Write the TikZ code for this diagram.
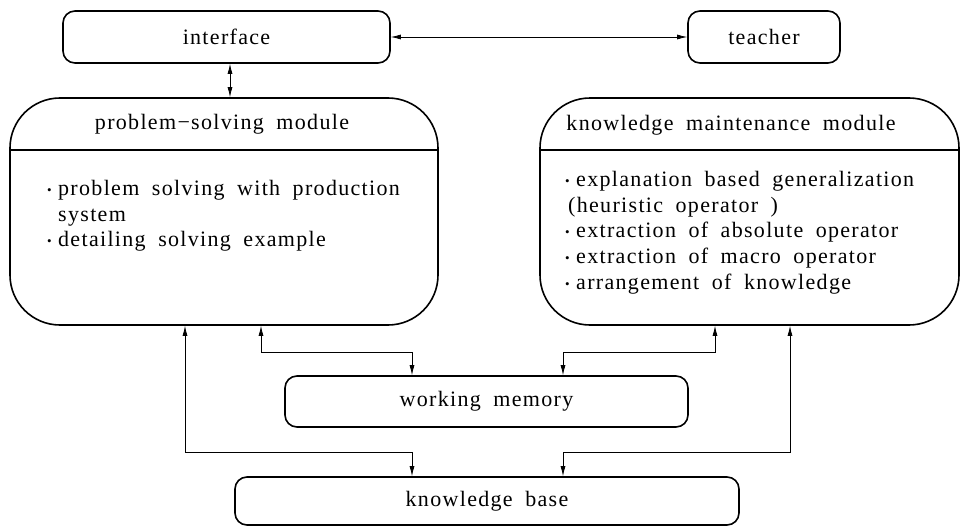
\documentclass[tikz,border=0pt]{standalone}
\usepackage{fontspec}
\setmainfont{Liberation Serif}[LetterSpace=6]
\usetikzlibrary{arrows.meta}
\newcommand\fs{\fontsize{22}{25.75}\selectfont\spaceskip=12.5pt plus 1pt\relax}
\newcommand\bul{\makebox[11pt][l]{\raisebox{1pt}{\fontsize{13}{13}\selectfont•}}}
\tikzset{
  modbox/.style={draw, line width=1.6pt, rounded corners=50pt, inner sep=0pt},
  smallbox/.style={draw, line width=1.6pt, rounded corners=12pt, inner sep=0pt, font=\fs},
  divider/.style={line width=1.4pt},
  conn/.style={line width=0.8pt, {Latex[length=10pt,width=5pt]}-{Latex[length=10pt,width=5pt]}},
  txt/.style={inner sep=0pt, font=\fs}
}
\begin{document}
\begin{tikzpicture}[x=1pt,y=-1pt]
\useasboundingbox (0,0) rectangle (961,527);
% boxes
\node[smallbox, minimum width=327pt, minimum height=52pt] (intf) at (226.5,37) {interface};
\node[smallbox, minimum width=152pt, minimum height=52pt] (teach) at (764,37) {teacher};
\node[modbox, minimum width=428pt, minimum height=227pt] (psm) at (224,211.5) {};
\node[modbox, minimum width=419pt, minimum height=227pt] (kmm) at (749.5,211.5) {};
\node[smallbox, minimum width=403pt, minimum height=51pt] (wm) at (486.5,401.5) {working memory};
\node[smallbox, minimum width=504pt, minimum height=48pt] (kb) at (487,501) {knowledge base};
% module headers and dividers
\node[txt] (psmh) at (222,124) {problem−solving module};
\node[txt] (kmmh) at (731,125) {knowledge maintenance module};
\draw[divider] (psm.west |- 0,150) -- (psm.east |- 0,150);
\draw[divider] (kmm.west |- 0,150) -- (kmm.east |- 0,150);
% module bodies
\node[txt, anchor=north west, align=left] (psmb) at (47,180) {%
\bul problem solving with production\\
\hspace*{11pt}system\\
\bul detailing solving example};
\node[txt, anchor=north west, align=left] (kmmb) at (565,171) {%
\bul explanation based generalization\\
\hspace*{3pt}(heuristic operator )\\
\bul extraction of absolute operator\\
\bul extraction of macro operator\\
\bul arrangement of knowledge};
% connectors
\coordinate (ia) at ([xshift=3.5pt]intf.south);
\draw[conn] (intf) -- (teach);
\draw[conn] (ia) -- (ia |- psm.north);
\coordinate (p1) at ([xshift=-39pt]psm.south);
\coordinate (p2) at ([xshift=37pt]psm.south);
\coordinate (k1) at ([xshift=-34.5pt]kmm.south);
\coordinate (k2) at ([xshift=40.5pt]kmm.south);
\coordinate (w1) at ([xshift=-74.5pt]wm.north);
\coordinate (w2) at ([xshift=76.5pt]wm.north);
\coordinate (b1) at ([xshift=-75pt]kb.north);
\coordinate (b2) at ([xshift=76pt]kb.north);
\draw[conn] (p1) -- (p1 |- 0,452) -| (b1);
\draw[conn] (p2) -- (p2 |- 0,352) -| (w1);
\draw[conn] (k1) -- (k1 |- 0,352) -| (w2);
\draw[conn] (k2) -- (k2 |- 0,452) -| (b2);
\end{tikzpicture}
\end{document}
